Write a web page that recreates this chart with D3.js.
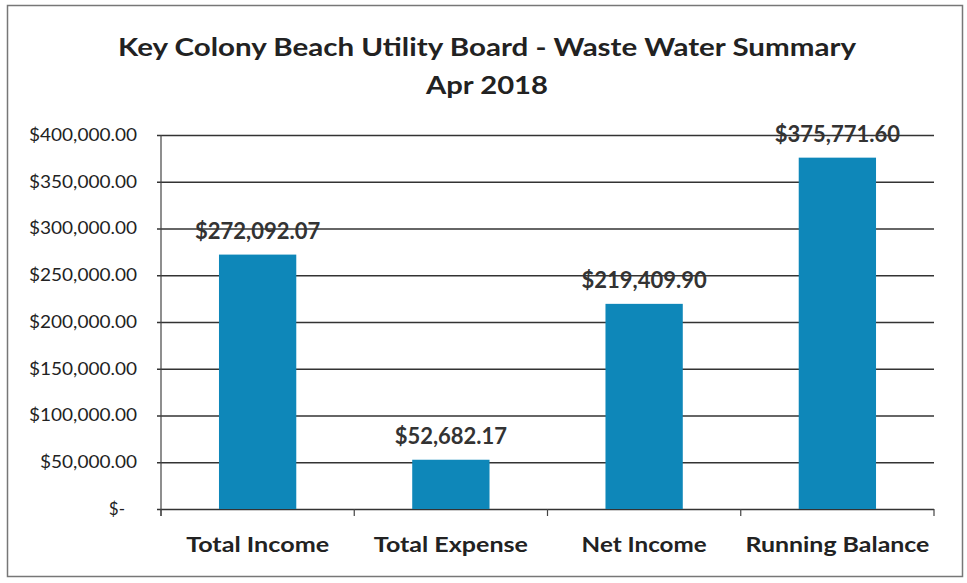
<!DOCTYPE html>
<html>
<head>
<meta charset="utf-8">
<script src="https://cdn.jsdelivr.net/npm/d3@7"></script>
<style>
  body { margin: 0; background: #fff; }
  svg { display: block; font-family: Lato, "Open Sans", sans-serif; }
</style>
</head>
<body>
<div id="container"></div>
<script>
// data
let categories = ["Total Income", "Total Expense", "Net Income", "Running Balance"];
let values = [272092.07, 52682.17, 219409.90, 375771.60];
let yTicks = [0, 50000, 100000, 150000, 200000, 250000, 300000, 350000, 400000];
let titleLines = ["Key Colony Beach Utility Board - Waste Water Summary", "Apr 2018"];

let w = 967;
let h = 583;
let plotLeft = 161, plotRight = 934, plotTop = 135, plotBottom = 509;
let font = "Lato, 'Open Sans', sans-serif";

let viz = d3.select("#container")
  .append("svg")
    .attr("width", w)
    .attr("height", h)
;

// scanned frame
viz.append("rect")
  .attr("x", 7.5).attr("y", 5.5)
  .attr("width", 955).attr("height", 571)
  .attr("fill", "none")
  .attr("stroke", "#777")
  .attr("stroke-width", 1.5);

// title
viz.selectAll(".title").data(titleLines).enter()
  .append("text")
    .classed("title", true)
    .attr("x", 487)
    .attr("y", (d, i) => 56 + i * 38)
    .attr("text-anchor", "middle")
    .attr("font-weight", "bold")
    .attr("font-size", 25)
    .attr("fill", "#222")
    .attr("textLength", (d, i) => i == 0 ? 738 : 122)
    .attr("lengthAdjust", "spacingAndGlyphs")
    .text(d => d);

let xScale = d3.scaleBand()
  .domain(categories)
  .range([plotLeft, plotRight])
  .padding(0);

let yScale = d3.scaleLinear()
  .domain([0, 400000])
  .range([plotBottom, plotTop]);

let fmt = d3.format(",.2f");

// y axis + gridlines
let yAxis = d3.axisLeft(yScale)
  .tickValues(yTicks)
  .tickSize(0)
  .tickPadding(24)
  .tickFormat(d => d == 0 ? "$-" : "$" + fmt(d));

let yAxisGroup = viz.append("g")
  .attr("transform", "translate(" + plotLeft + ",0)")
  .call(yAxis)
  .attr("font-family", font);
yAxisGroup.select(".domain").remove();
yAxisGroup.selectAll(".tick line")
  .attr("x1", -4)
  .attr("x2", plotRight - plotLeft)
  .attr("stroke", "#333")
  .attr("stroke-width", 1.4);
yAxisGroup.selectAll(".tick text")
  .attr("font-size", 17)
  .attr("fill", "#222")
  .attr("dx", d => d == 0 ? -12 : 0)
  .attr("textLength", d => d == 0 ? null : (d >= 100000 ? 108 : 97))
  .attr("lengthAdjust", "spacingAndGlyphs");

// vertical axis line
viz.append("line")
  .attr("x1", plotLeft).attr("x2", plotLeft)
  .attr("y1", plotTop).attr("y2", plotBottom + 7)
  .attr("stroke", "#444")
  .attr("stroke-width", 1.2);

// x axis
let xAxis = d3.axisBottom(xScale).tickSize(0).tickPadding(28);
let xAxisGroup = viz.append("g")
  .attr("transform", "translate(0," + plotBottom + ")")
  .call(xAxis)
  .attr("font-family", font);
xAxisGroup.select(".domain").remove();
xAxisGroup.selectAll("text")
  .attr("font-size", 21)
  .attr("font-weight", "bold")
  .attr("fill", "#222")
  .attr("textLength", d => ({"Total Income": 143, "Total Expense": 154, "Net Income": 125, "Running Balance": 184})[d])
  .attr("lengthAdjust", "spacingAndGlyphs");

// category boundary ticks
let edges = categories.map(d => xScale(d)).concat([plotRight]);
viz.selectAll(".edgeTick").data(edges).enter()
  .append("line")
    .classed("edgeTick", true)
    .attr("x1", d => d).attr("x2", d => d)
    .attr("y1", plotBottom).attr("y2", plotBottom + 7)
    .attr("stroke", "#444")
    .attr("stroke-width", 1.2);

// bars
let barW = xScale.bandwidth() * 0.4;
let bars = viz.append("g").classed("bars", true);
bars.selectAll("rect").data(values).enter()
  .append("rect")
    .attr("x", (d, i) => xScale(categories[i]) + xScale.bandwidth() / 2 - barW / 2)
    .attr("y", d => yScale(d))
    .attr("width", barW)
    .attr("height", d => plotBottom - yScale(d))
    .attr("fill", "#0e87b9");

// data labels
bars.selectAll(".label").data(values).enter()
  .append("text")
    .classed("label", true)
    .attr("x", (d, i) => xScale(categories[i]) + xScale.bandwidth() / 2)
    .attr("y", d => yScale(d) - 16)
    .attr("text-anchor", "middle")
    .attr("font-size", 22)
    .attr("font-weight", "bold")
    .attr("fill", "#333")
    .text(d => "$" + fmt(d));
</script>
</body>
</html>
